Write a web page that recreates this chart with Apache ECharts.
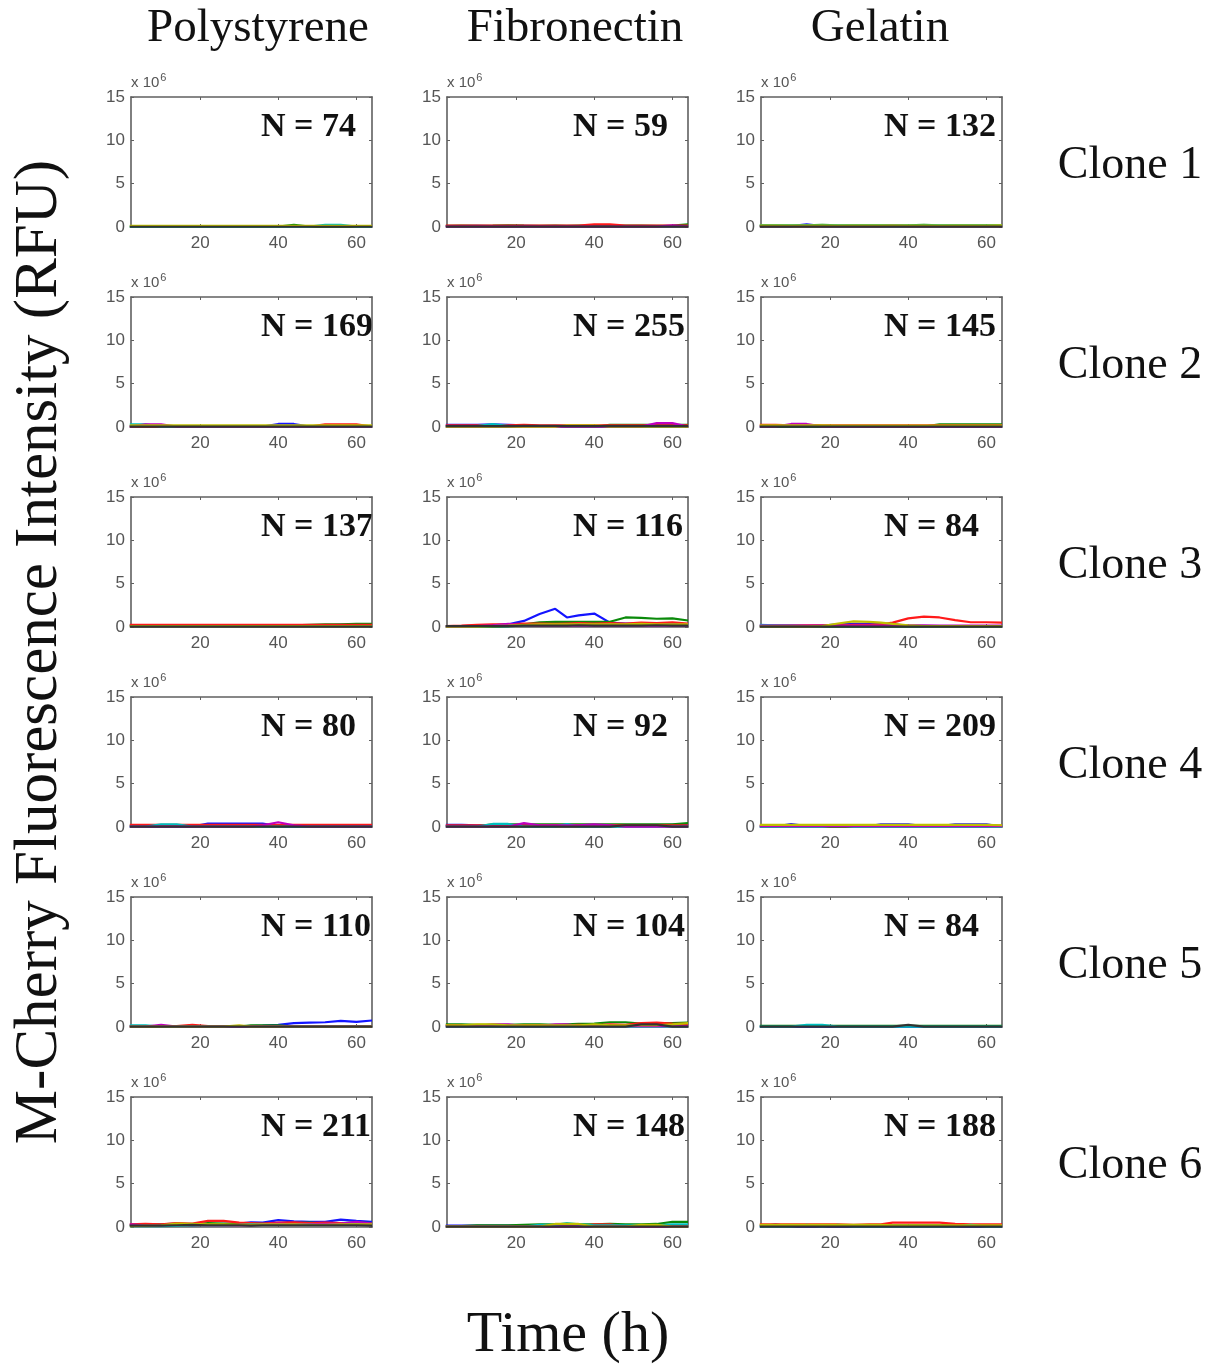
<!DOCTYPE html>
<html lang="en">
<head>
    <meta charset="UTF-8">
    <title>M-Cherry fluorescence per clone and substrate</title>
    <script src="https://cdn.jsdelivr.net/npm/echarts@6/dist/echarts.min.js"></script>
    <style>
        html, body { margin: 0; padding: 0; background: #fff; }
        #chart { width: 1215px; height: 1372px; }
    </style>
</head>
<body>
    <div id="chart"></div>
    <script>
        // time points (h) shared by every trace
        var TIME = [2, 6, 10, 14, 18, 22, 26, 30, 33, 36, 40, 44, 48, 52, 56, 60, 64];
        var SUBSTRATES = ['Polystyrene', 'Fibronectin', 'Gelatin'];
        var CLONES = ['Clone 1', 'Clone 2', 'Clone 3', 'Clone 4', 'Clone 5', 'Clone 6'];
        var CELL_COUNTS = [
            [74, 59, 132],
            [169, 255, 145],
            [137, 116, 84],
            [80, 92, 209],
            [110, 104, 84],
            [211, 148, 188]
        ];
        var X_TICKS = [20, 40, 60];
        var Y_TICKS = [0, 5, 10, 15];

        // intensity in units of 1e6 RFU; trace order: blue, green, red, cyan, magenta, yellow, black
        var CLONE1_POLY = [
            null,
            [.05,.05,.05,.05,.05,.05,.05,.05,.05,.05,.05,.25,.05,.05,.05,.05,.05],
            null,
            [.05,.05,.05,.05,.05,.05,.05,.05,.05,.05,.05,.05,.05,.25,.25,.05,.05],
            null,
            [.12,.12,.12,.12,.12,.12,.12,.12,.12,.12,.12,.12,.12,.12,.12,.12,.12],
            [.03,.03,.03,.03,.03,.03,.03,.03,.03,.03,.03,.03,.03,.03,.03,.03,.03]
        ];
        var CLONE1_FIBRO = [
            [.10,.10,.12,.10,.10,.12,.10,.10,.10,.10,.10,.10,.10,.10,.10,.10,.12],
            [.12,.15,.12,.15,.20,.15,.12,.15,.12,.15,.15,.12,.15,.15,.12,.15,.30],
            [.15,.15,.15,.15,.15,.15,.15,.15,.15,.15,.30,.30,.15,.15,.15,.15,.15],
            null,
            [.05,.05,.05,.05,.05,.05,.05,.05,.05,.05,.05,.05,.05,.05,.05,.20,.05],
            null,
            [.05,.05,.05,.05,.05,.05,.05,.05,.05,.05,.05,.05,.05,.05,.05,.05,.05]
        ];
        var CLONE1_GEL = [
            [.10,.10,.10,.30,.10,.10,.10,.10,.10,.10,.10,.10,.10,.10,.10,.10,.10],
            [.20,.20,.20,.20,.25,.20,.20,.20,.20,.20,.20,.25,.20,.20,.20,.20,.20],
            [.10,.10,.10,.10,.10,.10,.10,.10,.10,.15,.10,.10,.10,.10,.10,.10,.10],
            [.15,.15,.20,.15,.15,.20,.15,.15,.15,.15,.15,.15,.20,.15,.15,.15,.15],
            null,
            [.15,.15,.15,.15,.15,.15,.15,.15,.15,.15,.15,.15,.15,.15,.15,.15,.20],
            [.05,.05,.05,.05,.05,.05,.05,.05,.05,.05,.05,.05,.05,.05,.05,.05,.05]
        ];
        var CLONE2_POLY = [
            [.05,.05,.05,.05,.05,.05,.05,.05,.05,.05,.35,.35,.05,.05,.05,.05,.05],
            [.08,.08,.08,.08,.08,.08,.08,.08,.08,.08,.08,.08,.08,.08,.08,.08,.08],
            [.05,.05,.05,.05,.05,.05,.05,.05,.05,.05,.05,.05,.05,.30,.30,.30,.05],
            [.30,.30,.05,.05,.05,.05,.05,.05,.05,.05,.05,.05,.05,.05,.05,.05,.05],
            [.05,.30,.30,.05,.05,.05,.05,.05,.05,.05,.05,.05,.05,.05,.05,.05,.05],
            [.20,.20,.20,.20,.20,.20,.20,.20,.20,.20,.20,.20,.20,.20,.20,.20,.20],
            [.05,.05,.05,.05,.05,.05,.05,.05,.05,.05,.05,.05,.05,.05,.05,.05,.05]
        ];
        var CLONE2_FIBRO = [
            [.25,.25,.25,.30,.25,.20,.10,.10,.10,.10,.10,.10,.10,.10,.10,.10,.10],
            [.05,.05,.05,.05,.05,.05,.05,.05,.05,.05,.05,.25,.25,.25,.25,.25,.25],
            [.20,.20,.20,.20,.20,.25,.20,.20,.20,.20,.20,.20,.20,.20,.20,.20,.20],
            [.10,.10,.10,.35,.10,.10,.10,.10,.10,.10,.10,.10,.10,.10,.10,.10,.10],
            [.05,.05,.05,.05,.05,.05,.05,.05,.05,.05,.05,.05,.05,.05,.45,.45,.05],
            [.05,.05,.05,.05,.05,.05,.05,.05,.20,.20,.20,.05,.05,.05,.05,.05,.05],
            [.10,.10,.10,.10,.10,.12,.12,.12,.10,.10,.10,.10,.10,.10,.10,.10,.10]
        ];
        var CLONE2_GEL = [
            [.05,.05,.05,.05,.05,.05,.05,.05,.05,.05,.05,.05,.05,.05,.05,.05,.05],
            [.05,.05,.05,.05,.05,.05,.05,.05,.05,.05,.05,.05,.30,.30,.30,.30,.30],
            [.25,.25,.20,.25,.20,.20,.20,.20,.20,.20,.20,.20,.20,.20,.20,.20,.20],
            null,
            [.05,.05,.35,.35,.05,.05,.05,.05,.05,.05,.05,.05,.05,.05,.05,.05,.05],
            [.20,.20,.20,.20,.20,.15,.15,.15,.15,.15,.15,.15,.15,.15,.15,.15,.15],
            [.05,.05,.05,.05,.05,.05,.05,.05,.05,.05,.05,.05,.05,.05,.05,.05,.05]
        ];
        var CLONE3_POLY = [
            [.20,.20,.20,.20,.20,.20,.20,.20,.20,.20,.20,.20,.20,.20,.25,.25,.25],
            [.15,.15,.15,.15,.15,.15,.15,.15,.15,.15,.20,.20,.25,.30,.30,.35,.35],
            [.25,.25,.25,.25,.25,.25,.25,.25,.25,.25,.25,.25,.25,.25,.25,.25,.25],
            null,
            null,
            [.10,.10,.10,.10,.10,.10,.10,.10,.10,.10,.10,.10,.10,.10,.10,.10,.10],
            [.05,.05,.05,.05,.05,.05,.05,.05,.05,.05,.05,.05,.05,.05,.05,.05,.05]
        ];
        var CLONE3_FIBRO = [
            [.10,.10,.15,.20,.30,.70,1.5,2.1,1.1,1.35,1.55,.50,.40,.40,.45,.35,.30],
            [.05,.05,.05,.05,.10,.30,.55,.60,.60,.60,.60,.60,1.1,1.05,.95,1.0,.75],
            [.10,.15,.25,.30,.30,.40,.40,.35,.40,.45,.40,.45,.40,.50,.45,.55,.40],
            [.05,.05,.05,.10,.10,.15,.20,.20,.20,.25,.20,.25,.20,.20,.20,.20,.20],
            [.05,.05,.10,.20,.35,.20,.15,.15,.15,.15,.15,.15,.15,.15,.15,.15,.15],
            [.05,.05,.05,.10,.15,.25,.30,.30,.30,.30,.30,.30,.30,.35,.30,.30,.30],
            [.10,.10,.10,.10,.10,.15,.15,.15,.15,.20,.15,.15,.15,.15,.20,.15,.15]
        ];
        var CLONE3_GEL = [
            [.10,.10,.10,.10,.15,.30,.35,.35,.35,.30,.15,.10,.10,.10,.10,.10,.10],
            [.05,.05,.05,.05,.05,.05,.05,.05,.05,.05,.05,.05,.05,.05,.05,.05,.05],
            [.20,.20,.20,.20,.20,.20,.25,.25,.30,.50,1.0,1.2,1.1,.80,.55,.55,.50],
            [.25,.20,.15,.10,.10,.10,.10,.10,.10,.10,.10,.10,.10,.10,.10,.10,.10],
            [.15,.15,.15,.15,.15,.15,.15,.15,.15,.20,.20,.20,.15,.15,.15,.15,.15],
            [.05,.05,.05,.05,.10,.40,.65,.60,.50,.35,.20,.10,.10,.10,.10,.10,.10],
            [.05,.05,.05,.05,.05,.05,.05,.05,.05,.05,.05,.05,.05,.05,.05,.05,.05]
        ];
        var CLONE4_POLY = [
            [.05,.05,.05,.05,.05,.40,.40,.40,.40,.40,.10,.05,.05,.05,.05,.05,.05],
            [.15,.15,.15,.15,.15,.15,.15,.15,.15,.15,.15,.15,.15,.15,.15,.15,.15],
            [.25,.25,.25,.25,.25,.25,.25,.25,.25,.25,.25,.25,.25,.25,.25,.25,.25],
            [.05,.05,.30,.30,.05,.05,.05,.05,.05,.05,.05,.05,.05,.05,.05,.05,.05],
            [.05,.05,.05,.05,.05,.05,.05,.05,.05,.20,.55,.20,.05,.05,.05,.05,.05],
            null,
            [.05,.05,.05,.05,.05,.05,.05,.05,.05,.05,.05,.05,.05,.05,.05,.05,.05]
        ];
        var CLONE4_FIBRO = [
            [.25,.25,.20,.20,.20,.20,.20,.20,.20,.20,.20,.20,.20,.20,.20,.25,.25],
            [.10,.10,.10,.30,.30,.30,.30,.30,.30,.30,.30,.30,.30,.30,.30,.30,.45],
            [.20,.20,.20,.20,.20,.20,.20,.20,.20,.20,.20,.20,.20,.20,.20,.20,.20],
            [.05,.05,.05,.35,.35,.05,.05,.05,.35,.05,.05,.05,.05,.05,.05,.05,.05],
            [.05,.05,.05,.05,.05,.45,.20,.20,.20,.20,.30,.20,.05,.05,.05,.05,.05],
            null,
            [.05,.05,.05,.05,.05,.05,.05,.05,.05,.05,.05,.05,.20,.20,.20,.05,.05]
        ];
        var CLONE4_GEL = [
            [.05,.05,.35,.10,.10,.10,.10,.10,.30,.30,.30,.10,.10,.30,.30,.30,.05],
            [.05,.05,.05,.05,.05,.05,.05,.05,.05,.05,.05,.05,.05,.05,.05,.05,.05],
            [.15,.15,.15,.15,.15,.15,.15,.15,.15,.15,.15,.15,.15,.15,.15,.15,.15],
            [.05,.05,.05,.05,.05,.20,.05,.05,.05,.05,.05,.05,.05,.05,.05,.05,.05],
            [.10,.10,.10,.10,.10,.10,.10,.10,.10,.10,.10,.10,.10,.10,.10,.10,.10],
            [.25,.25,.25,.25,.25,.25,.25,.25,.25,.25,.25,.25,.25,.25,.25,.25,.20],
            null
        ];
        var CLONE5_POLY = [
            [.10,.10,.10,.10,.10,.10,.10,.10,.10,.15,.25,.45,.50,.55,.70,.60,.75],
            [.05,.05,.05,.05,.05,.05,.05,.05,.20,.20,.20,.05,.05,.05,.05,.05,.05],
            [.10,.10,.10,.10,.25,.10,.10,.10,.10,.10,.10,.10,.10,.10,.10,.10,.10],
            [.20,.20,.05,.05,.05,.05,.05,.05,.05,.05,.05,.05,.05,.05,.05,.05,.05],
            [.05,.05,.25,.05,.05,.05,.05,.05,.05,.05,.05,.05,.05,.05,.05,.05,.05],
            [.05,.05,.05,.05,.05,.05,.05,.20,.05,.05,.05,.05,.05,.05,.05,.05,.05],
            [.05,.05,.05,.05,.05,.05,.05,.05,.05,.05,.05,.05,.05,.05,.05,.05,.05]
        ];
        var CLONE5_FIBRO = [
            [.10,.10,.10,.10,.10,.10,.10,.10,.10,.15,.15,.20,.15,.15,.15,.15,.15],
            [.30,.30,.25,.25,.25,.30,.30,.25,.30,.35,.40,.55,.55,.40,.45,.45,.50],
            [.20,.20,.20,.20,.20,.20,.20,.20,.20,.25,.20,.30,.25,.45,.50,.40,.35],
            [.05,.05,.05,.05,.05,.05,.05,.05,.05,.05,.05,.05,.05,.05,.05,.05,.05],
            [.10,.10,.10,.30,.30,.10,.10,.30,.30,.10,.10,.10,.10,.10,.10,.10,.10],
            [.20,.20,.30,.30,.20,.20,.20,.20,.20,.20,.30,.20,.20,.20,.20,.30,.45],
            [.05,.05,.05,.05,.05,.05,.05,.05,.05,.05,.05,.05,.05,.30,.30,.05,.05]
        ];
        var CLONE5_GEL = [
            [.05,.05,.05,.05,.05,.05,.05,.05,.05,.05,.05,.05,.05,.05,.05,.05,.05],
            [.12,.12,.12,.12,.12,.12,.12,.12,.12,.12,.12,.12,.12,.12,.12,.12,.12],
            null,
            [.05,.05,.05,.25,.25,.05,.05,.05,.05,.05,.05,.05,.05,.05,.05,.05,.05],
            null,
            null,
            [.05,.05,.05,.05,.05,.05,.05,.05,.05,.05,.25,.05,.05,.05,.05,.05,.05]
        ];
        var CLONE6_POLY = [
            [.20,.20,.25,.30,.20,.30,.35,.40,.55,.50,.80,.65,.60,.60,.85,.70,.60],
            [.25,.30,.30,.40,.30,.45,.40,.35,.40,.35,.40,.45,.50,.40,.45,.50,.45],
            [.30,.35,.30,.45,.40,.70,.70,.50,.45,.40,.50,.55,.45,.50,.45,.40,.35],
            [.10,.10,.10,.15,.20,.20,.20,.25,.30,.30,.25,.30,.30,.25,.30,.30,.25],
            [.30,.20,.20,.30,.25,.20,.20,.25,.20,.30,.40,.30,.30,.35,.40,.60,.40],
            [.10,.15,.20,.40,.35,.30,.30,.25,.25,.30,.30,.30,.25,.25,.30,.30,.30],
            [.15,.15,.15,.20,.25,.20,.20,.20,.15,.20,.20,.20,.20,.20,.20,.20,.15]
        ];
        var CLONE6_FIBRO = [
            [.15,.15,.15,.15,.15,.15,.15,.15,.15,.15,.15,.15,.15,.15,.15,.15,.20],
            [.10,.10,.20,.20,.20,.25,.30,.30,.30,.30,.30,.35,.30,.30,.35,.60,.60],
            [.05,.05,.05,.05,.05,.05,.05,.05,.05,.05,.30,.30,.05,.05,.05,.05,.05],
            [.05,.05,.05,.05,.05,.05,.25,.25,.45,.30,.20,.20,.20,.20,.20,.30,.30],
            [.05,.05,.05,.05,.05,.05,.05,.05,.05,.05,.05,.05,.05,.05,.05,.05,.05],
            [.05,.05,.05,.05,.05,.05,.05,.35,.35,.35,.05,.05,.05,.25,.25,.05,.05],
            [.05,.05,.05,.05,.05,.05,.05,.05,.05,.05,.05,.05,.05,.05,.05,.05,.05]
        ];
        var CLONE6_GEL = [
            [.05,.30,.05,.05,.05,.05,.05,.05,.05,.05,.05,.05,.05,.05,.05,.05,.05],
            [.20,.20,.20,.20,.20,.20,.20,.20,.20,.20,.20,.20,.20,.20,.20,.20,.20],
            [.30,.30,.30,.30,.30,.30,.25,.30,.30,.50,.50,.50,.50,.35,.30,.30,.30],
            [.05,.05,.05,.25,.05,.25,.05,.05,.05,.05,.05,.05,.05,.05,.25,.05,.05],
            null,
            [.25,.25,.25,.25,.25,.25,.25,.25,.25,.20,.20,.20,.20,.20,.20,.20,.20],
            [.05,.05,.05,.05,.05,.05,.05,.05,.05,.05,.05,.05,.05,.05,.05,.05,.05]
        ];

        var PANELS = [
            [CLONE1_POLY, CLONE1_FIBRO, CLONE1_GEL],
            [CLONE2_POLY, CLONE2_FIBRO, CLONE2_GEL],
            [CLONE3_POLY, CLONE3_FIBRO, CLONE3_GEL],
            [CLONE4_POLY, CLONE4_FIBRO, CLONE4_GEL],
            [CLONE5_POLY, CLONE5_FIBRO, CLONE5_GEL],
            [CLONE6_POLY, CLONE6_FIBRO, CLONE6_GEL]
        ];

        // matlab-ish line colours, same order as traces
        var TRACE_COLORS = ['#1414ff', '#0a8a0a', '#ff1a1a', '#00bfbf', '#bf00bf', '#bfbf00', '#333333'];

        (function () {
            var COL_LEFT = [131, 447, 761];
            var PANEL_W = 241;
            var ROW_TOP = 97;
            var ROW_STEP = 200;
            var PANEL_H = 130;
            var N_OFFSET = [130, 126, 123];
            var SERIF = '"Liberation Serif", "DejaVu Serif", serif';
            var SANS = '"Liberation Sans", Arial, sans-serif';
            var AXIS_COLOR = '#606060';

            var chart = echarts.init(document.getElementById('chart'));
            var grids = [], xAxes = [], yAxes = [], series = [], texts = [];

            for (var r = 0; r < CLONES.length; r++) {
                for (var c = 0; c < SUBSTRATES.length; c++) {
                    var g = grids.length;
                    var panelTop = ROW_TOP + r * ROW_STEP;
                    grids.push({ left: COL_LEFT[c], top: panelTop, width: PANEL_W, height: PANEL_H });

                    // bottom + top x axis (top one just closes the box)
                    ['bottom', 'top'].forEach(function (pos) {
                        xAxes.push({
                            gridIndex: g, type: 'value', position: pos, min: 2.3, max: 64,
                            axisLine: { show: true, onZero: false, lineStyle: { color: AXIS_COLOR, width: 1.6 } },
                            axisTick: { show: true, inside: true, length: 3, customValues: X_TICKS, lineStyle: { color: AXIS_COLOR } },
                            axisLabel: { show: pos === 'bottom', customValues: X_TICKS, margin: 8, color: '#555', fontSize: 17, fontFamily: SANS },
                            splitLine: { show: false }
                        });
                    });
                    ['left', 'right'].forEach(function (pos) {
                        yAxes.push({
                            gridIndex: g, type: 'value', position: pos, min: 0, max: 15, interval: 5,
                            axisLine: { show: true, onZero: false, lineStyle: { color: AXIS_COLOR, width: 1.6 } },
                            axisTick: { show: true, inside: true, length: 3, customValues: Y_TICKS, lineStyle: { color: AXIS_COLOR } },
                            axisLabel: { show: pos === 'left', customValues: Y_TICKS, margin: 6, color: '#555', fontSize: 17, fontFamily: SANS },
                            splitLine: { show: false }
                        });
                    });

                    PANELS[r][c].forEach(function (trace, k) {
                        if (!trace) return;
                        series.push({
                            type: 'line', xAxisIndex: 2 * g, yAxisIndex: 2 * g,
                            data: TIME.map(function (t, i) { return [t, trace[i]]; }),
                            showSymbol: false, silent: true,
                            lineStyle: { color: TRACE_COLORS[k], width: 2.2 }
                        });
                    });

                    // exponent marker above the y axis
                    texts.push({
                        type: 'text', x: COL_LEFT[c], y: panelTop - 14,
                        style: {
                            text: '{a|x 10}{b|6}', verticalAlign: 'middle',
                            rich: {
                                a: { fontSize: 15, fill: '#555', fontFamily: SANS },
                                b: { fontSize: 11, fill: '#555', verticalAlign: 'top', padding: [0, 0, 11, 1], fontFamily: SANS }
                            }
                        }
                    });
                    texts.push({
                        type: 'text', x: COL_LEFT[c] + N_OFFSET[c], y: panelTop + 30,
                        style: { text: 'N = ' + CELL_COUNTS[r][c], fontSize: 34, fontWeight: 'bold', fontFamily: SERIF, fill: '#111', verticalAlign: 'middle' }
                    });
                }
                texts.push({
                    type: 'text', x: 1130, y: ROW_TOP + r * ROW_STEP + 69,
                    style: { text: CLONES[r], fontSize: 46, fontFamily: SERIF, fill: '#111', align: 'center', verticalAlign: 'middle' }
                });
            }

            var titleCenters = [258, 575, 880];
            SUBSTRATES.forEach(function (s, i) {
                texts.push({
                    type: 'text', x: titleCenters[i], y: 29,
                    style: { text: s, fontSize: 47, fontFamily: SERIF, fill: '#111', align: 'center', verticalAlign: 'middle' }
                });
            });
            texts.push({
                type: 'text', x: 40, y: 652, rotation: Math.PI / 2,
                style: { text: 'M-Cherry Fluorescence Intensity (RFU)', fontSize: 61, fontFamily: SERIF, fill: '#111', align: 'center', verticalAlign: 'middle' }
            });
            texts.push({
                type: 'text', x: 568, y: 1336,
                style: { text: 'Time (h)', fontSize: 58, fontFamily: SERIF, fill: '#111', align: 'center', verticalAlign: 'middle' }
            });

            chart.setOption({
                backgroundColor: '#fff',
                animation: false,
                grid: grids,
                xAxis: xAxes,
                yAxis: yAxes,
                series: series,
                graphic: texts
            });
        })();
    </script>
</body>
</html>
